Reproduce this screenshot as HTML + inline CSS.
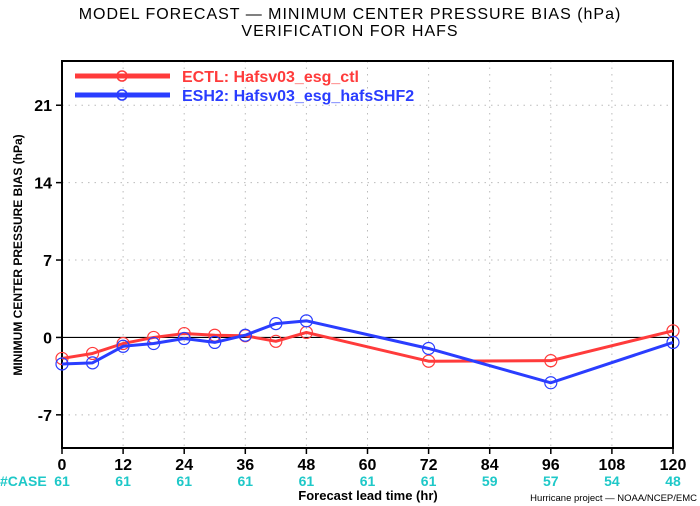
<!DOCTYPE html>
<html><head><meta charset="utf-8"><style>
html,body{margin:0;padding:0;background:#fff}
svg{display:block;font-family:"Liberation Sans",sans-serif}
</style></head><body>
<svg id="c" width="700" height="506" viewBox="0 0 700 506">
<text x="350" y="19" text-anchor="middle" font-size="16" letter-spacing="1">MODEL FORECAST — MINIMUM CENTER PRESSURE BIAS (hPa)</text>
<text x="350" y="36" text-anchor="middle" font-size="16" letter-spacing="1">VERIFICATION FOR HAFS</text>
<g id="grid"></g>
<g id="axes"></g>
<g id="series"></g>
<g>
<line x1="75" y1="76" x2="170" y2="76" stroke="#ff3b3b" stroke-width="5"/>
<circle cx="122" cy="76" r="5" fill="none" stroke="#ff3b3b" stroke-width="1.5"/>
<text x="182" y="82" font-size="16" font-weight="bold" fill="#ff3b3b">ECTL:  Hafsv03_esg_ctl</text>
<line x1="75" y1="95" x2="170" y2="95" stroke="#2a3dff" stroke-width="5"/>
<circle cx="122" cy="95" r="5" fill="none" stroke="#2a3dff" stroke-width="1.5"/>
<text x="182" y="101" font-size="16" font-weight="bold" fill="#2a3dff">ESH2:  Hafsv03_esg_hafsSHF2</text>
</g>
<text x="22" y="255" font-size="12" font-weight="bold" text-anchor="middle" transform="rotate(-90 22 255)">MINIMUM CENTER PRESSURE BIAS (hPa)</text>
<text x="368" y="500" font-size="13" font-weight="bold" text-anchor="middle">Forecast lead time (hr)</text>
<text x="697" y="501" font-size="9.5" text-anchor="end">Hurricane project — NOAA/NCEP/EMC</text>
<text x="0" y="486" font-size="14" font-weight="bold" fill="#1ec8c8">#CASE</text>
</svg>
<script>
const xTicks=[0,12,24,36,48,60,72,84,96,108,120];
const yTicks=[-7,0,7,14,21];
const caseCounts=[61,61,61,61,61,61,61,59,57,54,48];
const leadTimes=[0,6,12,18,24,30,36,42,48,72,96,120];
const ectlBias=[-1.9,-1.45,-0.55,0,0.35,0.2,0.15,-0.35,0.45,-2.15,-2.1,0.6];
const esh2Bias=[-2.4,-2.3,-0.8,-0.55,-0.1,-0.45,0.2,1.25,1.5,-1.0,-4.1,-0.45];
const L=62,R=673,T=61,B=448,xmin=0,xmax=120,ymin=-10,ymax=25;
const sx=v=>L+(v-xmin)/(xmax-xmin)*(R-L);
const sy=v=>B-(v-ymin)/(ymax-ymin)*(B-T);
const NS="http://www.w3.org/2000/svg";
function mk(tag,attrs,parent){const e=document.createElementNS(NS,tag);for(const k in attrs)e.setAttribute(k,attrs[k]);parent.appendChild(e);return e;}
const grid=document.getElementById('grid'),axes=document.getElementById('axes'),ser=document.getElementById('series');
xTicks.forEach((t,i)=>{
 if(t>0&&t<120){const g=mk('line',{x1:sx(t),x2:sx(t),y1:T,y2:B,stroke:'#bbb','stroke-dasharray':'1.5 5'},grid);
 
 }
 const tk=mk('line',{x1:sx(t),x2:sx(t),y1:B,y2:B+6,stroke:'#000','stroke-width':1.5},axes);
 
 
 const lb=mk('text',{x:sx(t),y:470,'text-anchor':'middle','font-size':16,'font-weight':'bold'},axes);lb.textContent=t;
 
 
 const cl=mk('text',{x:sx(t),y:486,'text-anchor':'middle','font-size':14,'font-weight':'bold',fill:'#1ec8c8'},axes);cl.textContent=caseCounts[i];
 
 
});
yTicks.forEach(t=>{
 if(t!==0){const g=mk('line',{x1:L,x2:R,y1:sy(t),y2:sy(t),stroke:'#bbb','stroke-dasharray':'1.5 5'},grid);
 
 }
 const tk=mk('line',{x1:L-6,x2:L,y1:sy(t),y2:sy(t),stroke:'#000','stroke-width':1.5},axes);
 
 
 const lb=mk('text',{x:L-10,y:sy(t)+6,'text-anchor':'end','font-size':16,'font-weight':'bold'},axes);lb.textContent=t;
 
 
});
const zl=mk('line',{x1:L,x2:R,y1:sy(0),y2:sy(0),stroke:'#000','stroke-width':1.2},axes);


const fr=mk('rect',{x:L,y:T,width:R-L,height:B-T,fill:'none',stroke:'#000','stroke-width':2},axes);


function drawSeries(vals,color,name){
 const pts=leadTimes.map((t,i)=>sx(t)+','+sy(vals[i])).join(' ');
 const pl=mk('polyline',{points:pts,fill:'none',stroke:color,'stroke-width':3,'stroke-linejoin':'round'},ser);
 
 
 leadTimes.forEach((t,i)=>{const c=mk('circle',{cx:sx(t),cy:sy(vals[i]),r:6,fill:'none',stroke:color,'stroke-width':1.2},ser);
 
 });
}
drawSeries(ectlBias,'#ff3b3b','ectl');
drawSeries(esh2Bias,'#2a3dff','esh2');
</script>
</body></html>
